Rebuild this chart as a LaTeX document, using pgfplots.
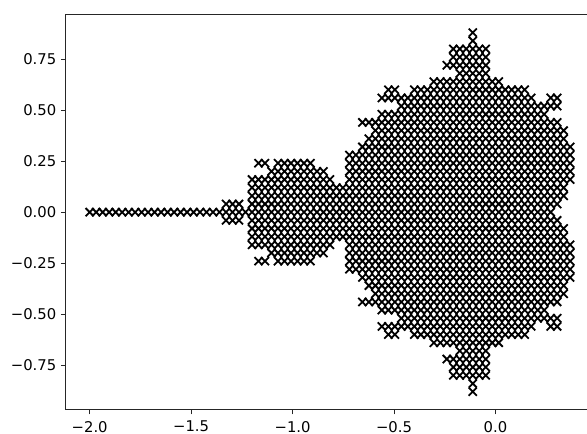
\documentclass[border=0pt]{standalone}
\usepackage{fontspec}
\setmainfont{DejaVu Sans}
\usepackage{pgfplots}
\usepackage{pgfplotstable}
\pgfplotsset{compat=1.18}
\pgfplotstableread{
x y
-0.112 .88
-0.112 .84
-0.208 .80
-0.176 .80
-0.144 .80
-0.112 .80
-0.08 .80
-0.048 .80
-0.208 .76
-0.176 .76
-0.144 .76
-0.112 .76
-0.08 .76
-0.048 .76
-0.24 .72
-0.208 .72
-0.176 .72
-0.144 .72
-0.112 .72
-0.08 .72
-0.048 .72
-0.176 .68
-0.144 .68
-0.112 .68
-0.08 .68
-0.048 .68
-0.304 .64
-0.272 .64
-0.24 .64
-0.208 .64
-0.176 .64
-0.144 .64
-0.112 .64
-0.08 .64
-0.048 .64
-0.016 .64
0.016 .64
-0.528 .60
-0.496 .60
-0.4 .60
-0.368 .60
-0.336 .60
-0.304 .60
-0.272 .60
-0.24 .60
-0.208 .60
-0.176 .60
-0.144 .60
-0.112 .60
-0.08 .60
-0.048 .60
-0.016 .60
0.016 .60
0.048 .60
0.08 .60
0.112 .60
0.144 .60
-0.56 .56
-0.528 .56
-0.496 .56
-0.464 .56
-0.432 .56
-0.4 .56
-0.368 .56
-0.336 .56
-0.304 .56
-0.272 .56
-0.24 .56
-0.208 .56
-0.176 .56
-0.144 .56
-0.112 .56
-0.08 .56
-0.048 .56
-0.016 .56
0.016 .56
0.048 .56
0.08 .56
0.112 .56
0.144 .56
0.176 .56
0.272 .56
0.304 .56
-0.464 .52
-0.432 .52
-0.4 .52
-0.368 .52
-0.336 .52
-0.304 .52
-0.272 .52
-0.24 .52
-0.208 .52
-0.176 .52
-0.144 .52
-0.112 .52
-0.08 .52
-0.048 .52
-0.016 .52
0.016 .52
0.048 .52
0.08 .52
0.112 .52
0.144 .52
0.176 .52
0.208 .52
0.24 .52
0.272 .52
0.304 .52
-0.56 .48
-0.528 .48
-0.496 .48
-0.464 .48
-0.432 .48
-0.4 .48
-0.368 .48
-0.336 .48
-0.304 .48
-0.272 .48
-0.24 .48
-0.208 .48
-0.176 .48
-0.144 .48
-0.112 .48
-0.08 .48
-0.048 .48
-0.016 .48
0.016 .48
0.048 .48
0.08 .48
0.112 .48
0.144 .48
0.176 .48
0.208 .48
0.24 .48
-0.656 .44
-0.624 .44
-0.592 .44
-0.56 .44
-0.528 .44
-0.496 .44
-0.464 .44
-0.432 .44
-0.4 .44
-0.368 .44
-0.336 .44
-0.304 .44
-0.272 .44
-0.24 .44
-0.208 .44
-0.176 .44
-0.144 .44
-0.112 .44
-0.08 .44
-0.048 .44
-0.016 .44
0.016 .44
0.048 .44
0.08 .44
0.112 .44
0.144 .44
0.176 .44
0.208 .44
0.24 .44
0.272 .44
0.304 .44
-0.592 .40
-0.56 .40
-0.528 .40
-0.496 .40
-0.464 .40
-0.432 .40
-0.4 .40
-0.368 .40
-0.336 .40
-0.304 .40
-0.272 .40
-0.24 .40
-0.208 .40
-0.176 .40
-0.144 .40
-0.112 .40
-0.08 .40
-0.048 .40
-0.016 .40
0.016 .40
0.048 .40
0.08 .40
0.112 .40
0.144 .40
0.176 .40
0.208 .40
0.24 .40
0.272 .40
0.304 .40
0.336 .40
-0.624 .36
-0.592 .36
-0.56 .36
-0.528 .36
-0.496 .36
-0.464 .36
-0.432 .36
-0.4 .36
-0.368 .36
-0.336 .36
-0.304 .36
-0.272 .36
-0.24 .36
-0.208 .36
-0.176 .36
-0.144 .36
-0.112 .36
-0.08 .36
-0.048 .36
-0.016 .36
0.016 .36
0.048 .36
0.08 .36
0.112 .36
0.144 .36
0.176 .36
0.208 .36
0.24 .36
0.272 .36
0.304 .36
0.336 .36
-0.656 .32
-0.624 .32
-0.592 .32
-0.56 .32
-0.528 .32
-0.496 .32
-0.464 .32
-0.432 .32
-0.4 .32
-0.368 .32
-0.336 .32
-0.304 .32
-0.272 .32
-0.24 .32
-0.208 .32
-0.176 .32
-0.144 .32
-0.112 .32
-0.08 .32
-0.048 .32
-0.016 .32
0.016 .32
0.048 .32
0.08 .32
0.112 .32
0.144 .32
0.176 .32
0.208 .32
0.24 .32
0.272 .32
0.304 .32
0.336 .32
0.368 .32
-0.72 .28
-0.688 .28
-0.656 .28
-0.624 .28
-0.592 .28
-0.56 .28
-0.528 .28
-0.496 .28
-0.464 .28
-0.432 .28
-0.4 .28
-0.368 .28
-0.336 .28
-0.304 .28
-0.272 .28
-0.24 .28
-0.208 .28
-0.176 .28
-0.144 .28
-0.112 .28
-0.08 .28
-0.048 .28
-0.016 .28
0.016 .28
0.048 .28
0.08 .28
0.112 .28
0.144 .28
0.176 .28
0.208 .28
0.24 .28
0.272 .28
0.304 .28
0.336 .28
0.368 .28
-1.168 .24
-1.136 .24
-1.072 .24
-1.04 .24
-1.008 .24
-0.976 .24
-0.944 .24
-0.912 .24
-0.72 .24
-0.688 .24
-0.656 .24
-0.624 .24
-0.592 .24
-0.56 .24
-0.528 .24
-0.496 .24
-0.464 .24
-0.432 .24
-0.4 .24
-0.368 .24
-0.336 .24
-0.304 .24
-0.272 .24
-0.24 .24
-0.208 .24
-0.176 .24
-0.144 .24
-0.112 .24
-0.08 .24
-0.048 .24
-0.016 .24
0.016 .24
0.048 .24
0.08 .24
0.112 .24
0.144 .24
0.176 .24
0.208 .24
0.24 .24
0.272 .24
0.304 .24
0.336 .24
0.368 .24
-1.104 .20
-1.072 .20
-1.04 .20
-1.008 .20
-0.976 .20
-0.944 .20
-0.912 .20
-0.88 .20
-0.848 .20
-0.72 .20
-0.688 .20
-0.656 .20
-0.624 .20
-0.592 .20
-0.56 .20
-0.528 .20
-0.496 .20
-0.464 .20
-0.432 .20
-0.4 .20
-0.368 .20
-0.336 .20
-0.304 .20
-0.272 .20
-0.24 .20
-0.208 .20
-0.176 .20
-0.144 .20
-0.112 .20
-0.08 .20
-0.048 .20
-0.016 .20
0.016 .20
0.048 .20
0.08 .20
0.112 .20
0.144 .20
0.176 .20
0.208 .20
0.24 .20
0.272 .20
0.304 .20
0.336 .20
0.368 .20
-1.2 .16
-1.168 .16
-1.136 .16
-1.104 .16
-1.072 .16
-1.04 .16
-1.008 .16
-0.976 .16
-0.944 .16
-0.912 .16
-0.88 .16
-0.848 .16
-0.816 .16
-0.72 .16
-0.688 .16
-0.656 .16
-0.624 .16
-0.592 .16
-0.56 .16
-0.528 .16
-0.496 .16
-0.464 .16
-0.432 .16
-0.4 .16
-0.368 .16
-0.336 .16
-0.304 .16
-0.272 .16
-0.24 .16
-0.208 .16
-0.176 .16
-0.144 .16
-0.112 .16
-0.08 .16
-0.048 .16
-0.016 .16
0.016 .16
0.048 .16
0.08 .16
0.112 .16
0.144 .16
0.176 .16
0.208 .16
0.24 .16
0.272 .16
0.304 .16
0.336 .16
0.368 .16
-1.2 .12
-1.168 .12
-1.136 .12
-1.104 .12
-1.072 .12
-1.04 .12
-1.008 .12
-0.976 .12
-0.944 .12
-0.912 .12
-0.88 .12
-0.848 .12
-0.816 .12
-0.784 .12
-0.752 .12
-0.72 .12
-0.688 .12
-0.656 .12
-0.624 .12
-0.592 .12
-0.56 .12
-0.528 .12
-0.496 .12
-0.464 .12
-0.432 .12
-0.4 .12
-0.368 .12
-0.336 .12
-0.304 .12
-0.272 .12
-0.24 .12
-0.208 .12
-0.176 .12
-0.144 .12
-0.112 .12
-0.08 .12
-0.048 .12
-0.016 .12
0.016 .12
0.048 .12
0.08 .12
0.112 .12
0.144 .12
0.176 .12
0.208 .12
0.24 .12
0.272 .12
0.304 .12
0.336 .12
-1.2 .08
-1.168 .08
-1.136 .08
-1.104 .08
-1.072 .08
-1.04 .08
-1.008 .08
-0.976 .08
-0.944 .08
-0.912 .08
-0.88 .08
-0.848 .08
-0.816 .08
-0.784 .08
-0.752 .08
-0.72 .08
-0.688 .08
-0.656 .08
-0.624 .08
-0.592 .08
-0.56 .08
-0.528 .08
-0.496 .08
-0.464 .08
-0.432 .08
-0.4 .08
-0.368 .08
-0.336 .08
-0.304 .08
-0.272 .08
-0.24 .08
-0.208 .08
-0.176 .08
-0.144 .08
-0.112 .08
-0.08 .08
-0.048 .08
-0.016 .08
0.016 .08
0.048 .08
0.08 .08
0.112 .08
0.144 .08
0.176 .08
0.208 .08
0.24 .08
0.272 .08
0.304 .08
0.336 .08
-1.328 .04
-1.296 .04
-1.264 .04
-1.2 .04
-1.168 .04
-1.136 .04
-1.104 .04
-1.072 .04
-1.04 .04
-1.008 .04
-0.976 .04
-0.944 .04
-0.912 .04
-0.88 .04
-0.848 .04
-0.816 .04
-0.784 .04
-0.752 .04
-0.72 .04
-0.688 .04
-0.656 .04
-0.624 .04
-0.592 .04
-0.56 .04
-0.528 .04
-0.496 .04
-0.464 .04
-0.432 .04
-0.4 .04
-0.368 .04
-0.336 .04
-0.304 .04
-0.272 .04
-0.24 .04
-0.208 .04
-0.176 .04
-0.144 .04
-0.112 .04
-0.08 .04
-0.048 .04
-0.016 .04
0.016 .04
0.048 .04
0.08 .04
0.112 .04
0.144 .04
0.176 .04
0.208 .04
0.24 .04
0.272 .04
0.304 .04
-2 0
-1.968 0
-1.936 0
-1.904 0
-1.872 0
-1.84 0
-1.808 0
-1.776 0
-1.744 0
-1.712 0
-1.68 0
-1.648 0
-1.616 0
-1.584 0
-1.552 0
-1.52 0
-1.488 0
-1.456 0
-1.424 0
-1.392 0
-1.36 0
-1.328 0
-1.296 0
-1.264 0
-1.232 0
-1.2 0
-1.168 0
-1.136 0
-1.104 0
-1.072 0
-1.04 0
-1.008 0
-0.976 0
-0.944 0
-0.912 0
-0.88 0
-0.848 0
-0.816 0
-0.784 0
-0.752 0
-0.72 0
-0.688 0
-0.656 0
-0.624 0
-0.592 0
-0.56 0
-0.528 0
-0.496 0
-0.464 0
-0.432 0
-0.4 0
-0.368 0
-0.336 0
-0.304 0
-0.272 0
-0.24 0
-0.208 0
-0.176 0
-0.144 0
-0.112 0
-0.08 0
-0.048 0
-0.016 0
0.016 0
0.048 0
0.08 0
0.112 0
0.144 0
0.176 0
0.208 0
0.24 0
0.272 0
}\pts
\begin{document}
\begin{tikzpicture}[x=1pt,y=1pt]
\useasboundingbox (0,0) rectangle (440.25,325.5);
\clip (0,0) rectangle (440.25,325.5);
\begin{axis}[
  at={(49.3pt,18.25pt)}, anchor=south west,
  scale only axis, width=397.5pt, height=296.25pt,
  xmin=-2.118, xmax=0.494, ymin=-0.968, ymax=0.968,
  xtick={-2,-1.5,-1,-0.5,0},
  xticklabels={−2.0,−1.5,−1.0,−0.5,0.0},
  ytick={-0.75,-0.5,-0.25,0,0.25,0.5,0.75},
  yticklabels={−0.75,−0.50,−0.25,0.00,0.25,0.50,0.75},
  tick pos=left, tick align=outside,
  major tick length=3.6pt,
  tick style={black!85,line width=0.8pt},
  axis line style={black!85,line width=0.8pt},
  tick label style={font=\fontsize{11.1pt}{12pt}\selectfont},
  xticklabel style={yshift=-1.5pt},
  clip=false,
]
\addplot[only marks, mark=x, mark size=4.3pt, mark options={line width=1.35pt,black}] table[x=x,y=y] {\pts};
\addplot[only marks, mark=x, mark size=4.3pt, mark options={line width=1.35pt,black}, restrict y to domain=-1:-0.01] table[x=x,y expr=-\thisrow{y}] {\pts};
\end{axis}
\end{tikzpicture}
\end{document}
